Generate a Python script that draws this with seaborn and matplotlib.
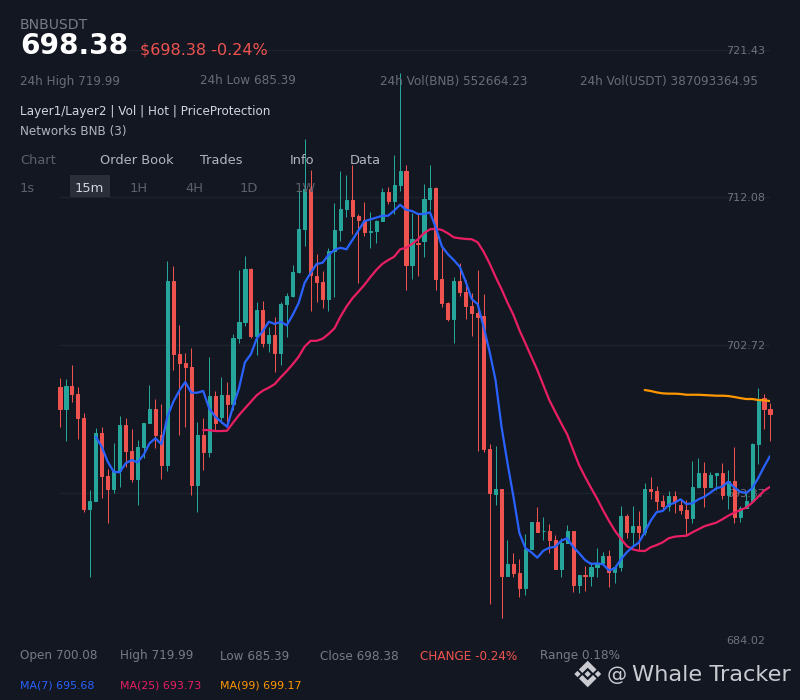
"""BNBUSDT 15m candles with MA overlays, dark trading-terminal look."""
import numpy as np
import pandas as pd
import matplotlib; matplotlib.use('Agg')
import matplotlib.pyplot as plt
from matplotlib.patches import Polygon, Rectangle
import seaborn as sns

BG, GRID = '#131722', '#1e222d'
UP, DOWN = '#26a69a', '#ef5350'
BLUE, PINK, ORANGE = '#2962ff', '#e91e63', '#ff9800'

opens = [700.08, 698.68, 700.12, 699.62, 698.09, 692.30, 692.83, 697.14, 694.42, 693.59,
         694.73, 697.65, 696.00, 694.23, 696.26, 697.78, 698.67, 697.02, 695.11, 706.78,
         702.15, 701.58, 701.33, 693.85, 697.02, 695.94, 699.49, 698.16, 699.55, 698.98,
         703.17, 704.18, 707.54, 703.29, 704.94, 702.85, 703.36, 702.22, 705.32, 705.83,
         707.35, 710.08, 712.62, 707.10, 706.72, 705.64, 708.68, 710.02, 711.35, 711.92,
         710.90, 710.65, 709.89, 709.95, 710.59, 712.43, 711.85, 712.87, 713.76, 707.80,
         709.19, 709.32, 711.98, 712.68, 706.91, 705.39, 704.37, 706.78, 706.08, 705.20,
         704.75, 704.56, 696.13, 693.28, 693.59, 688.08, 688.84, 688.27, 687.31, 689.79,
         691.50, 690.90, 690.93, 690.36, 688.52, 690.17, 690.93, 687.51, 688.14, 688.08,
         688.65, 688.90, 689.34, 688.33, 688.65, 691.88, 690.87, 691.25, 690.87, 693.59,
         693.47, 692.83, 692.51, 693.15, 692.58, 692.26, 691.75, 693.72, 694.61, 693.72,
         694.48, 694.61, 693.21, 694.10, 691.82, 692.39, 692.83, 696.45, 699.36, 698.67]
closes = [698.68, 700.12, 699.62, 698.09, 692.32, 692.83, 697.14, 694.42, 693.59, 694.73,
          697.65, 696.00, 694.23, 696.26, 697.78, 698.67, 697.02, 695.11, 706.78, 702.15,
          701.58, 701.33, 693.85, 697.02, 695.94, 699.49, 697.78, 699.55, 698.98, 703.17,
          704.18, 707.54, 703.29, 704.94, 702.85, 703.36, 702.22, 705.32, 705.83, 707.35,
          710.08, 712.62, 707.16, 706.72, 705.64, 708.68, 710.02, 711.35, 711.92, 710.90,
          710.65, 709.89, 709.95, 710.59, 712.43, 711.85, 712.87, 713.76, 707.80, 709.45,
          709.13, 711.98, 712.68, 706.91, 705.39, 704.37, 706.78, 706.08, 705.20, 704.75,
          704.50, 696.13, 693.34, 693.59, 688.08, 688.84, 688.27, 687.31, 689.79, 691.50,
          690.87, 690.93, 690.36, 688.52, 690.17, 690.93, 687.51, 688.14, 688.08, 688.65,
          688.90, 689.34, 688.33, 688.65, 691.88, 690.87, 691.25, 690.87, 693.59, 693.47,
          692.83, 692.51, 693.15, 692.77, 692.26, 691.75, 693.72, 694.61, 693.72, 694.48,
          694.61, 693.21, 694.10, 691.82, 692.39, 692.83, 696.45, 699.30, 698.67, 698.38]
highs = [700.63, 700.59, 701.46, 700.08, 698.41, 693.53, 697.46, 697.52, 694.86, 696.51,
         698.22, 698.09, 697.40, 696.70, 697.78, 700.19, 699.30, 698.98, 708.05, 707.73,
         703.99, 702.22, 702.53, 697.84, 698.09, 701.96, 699.81, 700.69, 700.38, 703.42,
         707.48, 708.37, 707.61, 705.45, 705.51, 703.86, 704.50, 705.45, 706.02, 707.80,
         712.68, 715.79, 713.82, 708.49, 707.42, 708.87, 711.73, 713.76, 713.50, 714.14,
         711.03, 711.79, 711.16, 710.65, 712.68, 712.74, 714.77, 719.99, 714.14, 711.09,
         711.03, 712.96, 714.14, 712.74, 708.94, 705.45, 707.04, 707.92, 706.85, 706.02,
         707.48, 705.96, 696.45, 696.32, 693.59, 690.36, 689.53, 689.15, 690.74, 691.50,
         692.45, 691.82, 691.37, 690.68, 690.49, 691.31, 690.93, 688.14, 688.71, 688.96,
         689.85, 689.60, 689.72, 688.77, 692.51, 692.01, 692.51, 692.20, 693.97, 694.35,
         693.78, 693.21, 693.47, 693.47, 692.96, 692.90, 695.37, 695.56, 695.30, 694.67,
         694.61, 695.24, 694.80, 696.26, 692.51, 693.34, 696.51, 700.00, 699.62, 699.05]
lows = [697.54, 696.65, 699.11, 696.76, 692.13, 688.01, 692.83, 693.02, 691.44, 693.34,
        693.72, 694.99, 694.04, 692.58, 695.56, 697.78, 696.19, 694.23, 694.73, 701.14,
        697.02, 697.52, 693.21, 692.13, 694.80, 695.62, 697.33, 697.78, 697.52, 698.60,
        702.85, 703.93, 703.17, 702.09, 702.60, 702.28, 701.01, 701.46, 703.23, 705.77,
        707.29, 709.00, 704.88, 705.45, 705.07, 704.88, 705.77, 709.32, 710.84, 709.76,
        706.65, 709.64, 708.87, 709.19, 710.59, 711.66, 711.03, 712.49, 706.21, 706.91,
        707.10, 708.30, 711.28, 706.21, 705.13, 704.25, 702.85, 705.83, 704.37, 703.29,
        696.00, 695.94, 686.30, 692.58, 685.39, 688.08, 688.01, 686.74, 686.87, 689.79,
        690.87, 690.36, 689.53, 688.52, 688.01, 690.17, 687.06, 687.00, 687.12, 687.44,
        688.01, 688.90, 687.38, 687.63, 688.39, 690.49, 689.98, 689.72, 690.68, 692.96,
        692.26, 692.26, 692.20, 692.07, 692.01, 690.68, 691.44, 693.66, 692.45, 693.72,
        693.53, 692.96, 692.32, 691.44, 691.50, 692.39, 692.77, 695.18, 697.40, 696.64]

# moving averages start once their window is filled
ma7 = [696.91, 696.27, 695.32, 694.69, 694.65, 695.22, 695.43, 695.29, 695.75, 696.49,
       696.81, 696.43, 698.18, 699.13, 699.83, 700.38, 699.70, 699.70, 699.81, 698.71,
       698.18, 697.86, 697.54, 698.81, 699.98, 701.63, 702.15, 703.15, 703.61, 704.20,
       704.06, 704.20, 703.97, 704.63, 705.39, 706.67, 707.29, 707.86, 707.94, 708.43,
       708.75, 708.89, 708.79, 709.38, 709.97, 710.57, 710.69, 710.80, 710.92, 710.92,
       711.24, 711.62, 711.30, 711.22, 711.03, 711.03, 711.14, 710.16, 708.98, 708.49,
       708.11, 707.69, 706.74, 705.64, 705.32, 703.88, 702.30, 700.50, 697.54, 695.24,
       693.10, 690.80, 689.85, 689.58, 689.24, 689.68, 689.87, 689.93, 690.31, 690.47,
       689.93, 689.53, 689.09, 688.84, 688.88, 688.82, 688.44, 688.56, 689.13, 689.58,
       689.93, 690.19, 690.85, 691.58, 692.13, 692.20, 692.58, 692.72, 692.94, 692.64,
       692.69, 692.94, 693.10, 693.36, 693.64, 693.74, 694.06, 693.70, 693.42, 693.34,
       693.64, 694.27, 695.01, 695.68]
ma25 = [697.33, 697.33, 697.27, 697.27, 697.29, 697.80, 698.28, 698.71, 699.13, 699.55,
        699.83, 700.02, 700.25, 700.68, 701.07, 701.50, 701.98, 702.62, 702.99, 702.99,
        703.12, 703.42, 703.78, 704.52, 705.15, 705.68, 706.10, 706.53, 707.02, 707.48,
        707.86, 708.11, 708.32, 708.79, 708.89, 709.13, 709.43, 709.81, 710.06, 710.10,
        710.02, 709.81, 709.55, 709.49, 709.45, 709.43, 709.24, 708.64, 707.90, 707.05,
        706.27, 705.41, 704.63, 703.67, 702.83, 701.98, 701.14, 700.19, 699.24, 698.49,
        697.76, 697.06, 696.07, 695.11, 694.37, 693.67, 693.00, 692.26, 691.58, 690.95,
        690.44, 689.98, 689.77, 689.68, 689.66, 689.90, 690.04, 690.21, 690.47, 690.57,
        690.61, 690.63, 690.85, 691.04, 691.23, 691.35, 691.46, 691.67, 691.90, 692.09,
        692.26, 692.41, 692.72, 693.10, 693.48, 693.73]
ma99 = [699.87, 699.81, 699.72, 699.66, 699.64, 699.64, 699.62, 699.57, 699.57, 699.57,
        699.55, 699.53, 699.51, 699.51, 699.49, 699.43, 699.36, 699.30, 699.30, 699.24,
        699.22, 699.17]

price_ticks = [684.02, 693.37, 702.72, 712.08, 721.43]
price_labels = ['684.02', '693.37', '702.72', '712.08', '721.43']

sns.set_theme(style='dark', rc={'figure.facecolor': BG, 'axes.facecolor': 'none',
                                'axes.edgecolor': 'none', 'grid.color': GRID})
plt.rcParams['font.family'] = ['DejaVu Sans']

fig = plt.figure(figsize=(8, 7), dpi=100, facecolor=BG)

# full-figure layer in pixels for the header and footer text, above the candles
ui = fig.add_axes([0, 0, 1, 1], zorder=2)
ui.set_xlim(0, 800); ui.set_ylim(700, 0); ui.axis('off')

def label(x, y, s, px, color, **kw):
    ui.text(x, y, s, fontsize=px * 0.72, color=color, va='center', **kw)

GREY, DIM, SOFT, LIGHT = '#787b86', '#5d606b', '#b2b5be', '#d1d4dc'
label(20, 25, 'BNBUSDT', 14, GREY)
label(20, 46, '698.38', 28, 'white', fontweight='bold')
label(140, 50, '$698.38 -0.24%', 16, DOWN)
for x, s in zip([20, 200, 380, 580], ['24h High 719.99', '24h Low 685.39',
                                      '24h Vol(BNB) 552664.23', '24h Vol(USDT) 387093364.95']):
    label(x, 81, s, 12, '#6a6d78')
label(20, 111, 'Layer1/Layer2 | Vol | Hot | PriceProtection', 12, LIGHT)
label(20, 131, 'Networks BNB (3)', 12, SOFT)
for x, s, c in zip([20, 100, 200, 290, 350], ['Chart', 'Order Book', 'Trades', 'Info', 'Data'],
                   [DIM, SOFT, SOFT, SOFT, SOFT]):
    label(x, 161, s, 13, c)
ui.add_patch(Rectangle((70, 175), 40, 22, color='#2a2e39', lw=0))
for x, s, c in zip([20, 75, 130, 185, 240, 295], ['1s', '15m', '1H', '4H', '1D', '1W'],
                   [DIM, LIGHT, DIM, DIM, DIM, DIM]):
    label(x, 189, s, 13, c)
for x, s, c in zip([20, 120, 220, 320, 420, 540],
                   ['Open 700.08', 'High 719.99', 'Low 685.39', 'Close 698.38',
                    'CHANGE -0.24%', 'Range 0.18%'],
                   [GREY, GREY, GREY, GREY, DOWN, GREY]):
    label(x, 656, s, 12, c)
for x, s, c in zip([20, 120, 220], ['MA(7) 695.68', 'MA(25) 693.73', 'MA(99) 699.17'],
                   [BLUE, PINK, ORANGE]):
    label(x, 686, s, 11, c)

# watermark: logo drawn as small diamonds and chevrons
WM = '#c9cbd1'
for cx in [577.5, 587.7, 598]:
    r = 3.2
    ui.add_patch(Polygon([(cx - r, 674), (cx, 674 - r), (cx + r, 674), (cx, 674 + r)], color=WM, lw=0))
for sign in [-1, 1]:
    shape = [(587.7, 13.3), (596.5, 4.5), (593, 1), (587.7, 6.3), (582.4, 1), (578.9, 4.5)]
    ui.add_patch(Polygon([(x, 674 + sign * d) for x, d in shape], color=WM, lw=0))
ui.text(607, 675, '@', fontsize=14.5, color=WM, va='center')
ui.text(632, 675, 'Whale Tracker', fontsize=16.2, color=WM, va='center')

# price panel: x = candle index, y = price
ax = fig.add_axes([60 / 800, 60 / 700, 710 / 800, 590 / 700], zorder=1)
ax.patch.set_alpha(0)
idx = np.arange(len(opens))
df = pd.DataFrame({'i': idx, 'open': opens, 'close': closes, 'high': highs, 'low': lows})
df['color'] = np.where(df['close'] >= df['open'], UP, DOWN)

ax.vlines(df['i'], df['low'], df['high'], colors=df['color'], lw=0.72, zorder=2, clip_on=False)
# a 1 px edge keeps the doji candles visible and snaps the bodies to whole pixels
ax.bar(df['i'], (df['close'] - df['open']).abs(), bottom=df[['open', 'close']].min(axis=1),
       width=0.52, color=df['color'], edgecolor=df['color'], lw=0.72, zorder=3, clip_on=False)

for vals, col in [(ma99, ORANGE), (ma25, PINK), (ma7, BLUE)]:
    sns.lineplot(x=idx[-len(vals):], y=vals, color=col, lw=1.6, ax=ax, legend=False,
                 estimator=None, zorder=4)

ax.set_xlim(0, 119)
ax.set_ylim(684.02, 721.43)
ax.set_xticks([])
ax.set_yticks(price_ticks, price_labels)
ax.yaxis.tick_right()
ax.tick_params(axis='y', length=0, pad=-31.7, labelsize=8, labelcolor='#6f727d')
ax.grid(axis='y', color=GRID, lw=1)
ax.set_axisbelow(True)
ax.set_xlabel(''); ax.set_ylabel('')
for s in ax.spines.values():
    s.set_visible(False)

fig.savefig('out.png', dpi=100, facecolor=BG)
